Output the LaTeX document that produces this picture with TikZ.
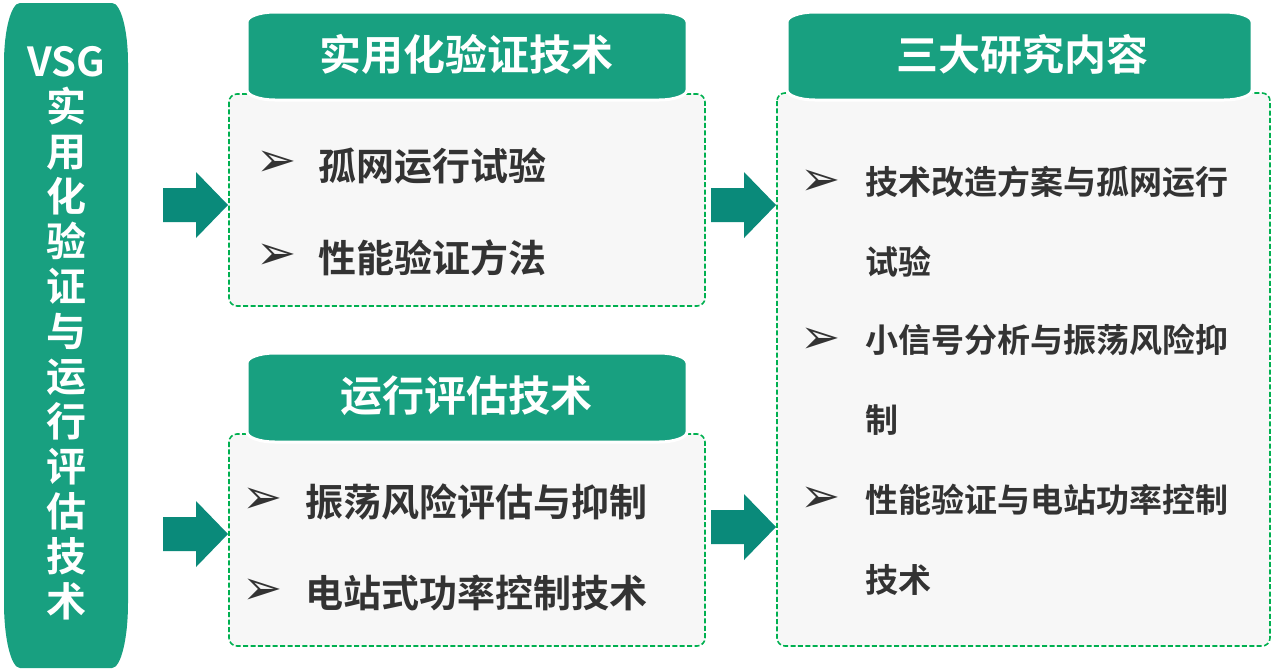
\documentclass[tikz,border=0pt]{standalone}
\usepackage{fontspec}
\newfontfamily\cjk{Noto Sans CJK SC}[BoldFont={Noto Sans CJK SC Bold}]
\newfontfamily\symb{DejaVu Sans}
\usetikzlibrary{positioning}

\definecolor{headteal}{RGB}{24,160,128}
\definecolor{arrowteal}{RGB}{10,138,122}
\definecolor{dashgreen}{RGB}{0,176,80}
\definecolor{panelgray}{RGB}{247,247,247}
\definecolor{textgray}{RGB}{51,51,51}

\begin{document}
\begin{tikzpicture}[x=0.5pt,y=0.5pt,
    panel/.style={draw=dashgreen,fill=panelgray,line width=0.8pt,
        dash pattern=on 2.5pt off 1.2pt,rounded corners=4pt},
    headtext/.style={inner sep=0,text=white,font=\cjk\bfseries\fontsize{21}{24}\selectfont},
    bartext/.style={inner sep=0,text=white,align=center,font=\cjk\bfseries\fontsize{20}{22.5}\selectfont},
    itemtext/.style={inner sep=0,anchor=west,text=textgray,font=\cjk\bfseries\fontsize{19}{24}\selectfont},
    sidetext/.style={inner sep=0,anchor=west,text=textgray,align=left,font=\cjk\bfseries\fontsize{16.5}{40}\selectfont},
    tick/.style={inner sep=0,text=textgray,font=\symb\fontsize{24}{26}\selectfont}]

    \useasboundingbox (0,0) rectangle (1272,-671);

    % Header macro:
    % #1 = x-left, #2 = x-right, #3 = y-top, #4 = y-bottom
    \newcommand{\headbar}[4]{%
        \draw[fill=headteal,draw=white,line width=1.5pt]
            (#1,#3-10) arc[start angle=180,end angle=90,x radius=28,y radius=10]
            -- (#2-28,#3) arc[start angle=90,end angle=0,x radius=28,y radius=10]
            -- (#2,#4+10) arc[start angle=0,end angle=-90,x radius=28,y radius=10]
            -- (#1+28,#4) arc[start angle=270,end angle=180,x radius=28,y radius=10]
            -- cycle;
    }

    % Block arrow macro: #1 = tip x, #2 = tip y
    \newcommand{\flowarrow}[2]{%
        \fill[arrowteal] (#1-65,#2+17) -- (#1-32,#2+17) -- (#1-32,#2+33) -- (#1,#2)
            -- (#1-32,#2-33) -- (#1-32,#2-17) -- (#1-65,#2-17) -- cycle;
    }

    % left bar
    \fill[headteal] (4,-63) arc[start angle=180,end angle=90,x radius=16,y radius=60]
        -- (112,-3) arc[start angle=90,end angle=0,x radius=16,y radius=60]
        -- (128,-603) arc[start angle=0,end angle=-90,x radius=16,y radius=65]
        -- (20,-668) arc[start angle=270,end angle=180,x radius=16,y radius=65]
        -- cycle;
    \node[bartext] (bar) at (66,-333)
        {VSG\\实\\用\\化\\验\\证\\与\\运\\行\\评\\估\\技\\术};

    % dashed panels
    \draw[panel] (229,-94) rectangle (705,-306);
    \draw[panel] (229,-434) rectangle (705,-646);
    \draw[panel] (777,-93) rectangle (1270,-646);

    % headers
    \headbar{247}{687}{-12}{-100}
    \node[headtext] (head1) at (466,-54) {实用化验证技术};
    \headbar{247}{687}{-353}{-442}
    \node[headtext] (head2) at (466,-396) {运行评估技术};
    \headbar{787}{1252}{-12}{-100}
    \node[headtext] (head3) at (1022,-54) {三大研究内容};

    % upper left panel
    \node[tick] (t11) at (277,-164) {➢};
    \node[itemtext] (i11) at (318,-166) {孤网运行试验};
    \node[tick] (t12) at (277,-257) {➢};
    \node[itemtext] (i12) at (318,-258) {性能验证方法};

    % lower left panel
    \node[tick] (t21) at (263,-501) {➢};
    \node[itemtext] (i21) at (305,-502) {振荡风险评估与抑制};
    \node[tick] (t22) at (263,-592) {➢};
    \node[itemtext] (i22) at (305,-593) {电站式功率控制技术};

    % right panel
    \node[tick] (t31) at (821,-183) {➢};
    \node[sidetext] (i31) at (865,-222) {技术改造方案与孤网运行\\试验};
    \node[tick] (t32) at (821,-341) {➢};
    \node[sidetext] (i32) at (865,-380) {小信号分析与振荡风险抑\\制};
    \node[tick] (t33) at (821,-500) {➢};
    \node[sidetext] (i33) at (865,-540) {性能验证与电站功率控制\\技术};

    % arrows
    \flowarrow{228}{-205}
    \flowarrow{228}{-534}
    \flowarrow{776}{-205}
    \flowarrow{776}{-527}
\end{tikzpicture}
\end{document}
